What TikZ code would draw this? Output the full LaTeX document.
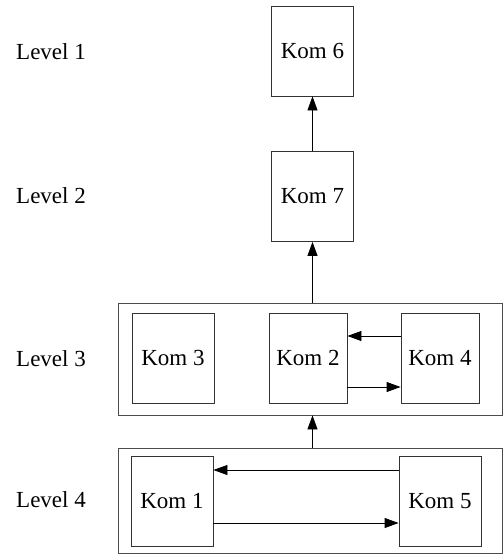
\documentclass[tikz,border=0pt]{standalone}
\usepackage{fontspec}
\setmainfont{Liberation Serif}
\usetikzlibrary{arrows.meta}
\tikzset{
	kom/.style={draw=black!80,line width=0.8pt,minimum width=82pt,minimum height=90pt,inner sep=0pt},
	levelbox/.style={draw=black!70,line width=0.8pt,minimum width=384pt,inner sep=0pt},
	arr/.style={line width=0.8pt,-{Triangle[length=14pt,width=10pt]}},
	lvl/.style={anchor=west,inner sep=0pt}
}
\begin{document}
\begin{tikzpicture}[x=1pt,y=-1pt,font=\fontsize{23}{27}\selectfont]
		\useasboundingbox (0,0) rectangle (503,554);
			\node[lvl] (l1) at (16,52) {Level 1};
			\node[lvl] (l2) at (16,196) {Level 2};
			\node[lvl] (l3) at (16,359) {Level 3};
			\node[lvl] (l4) at (16,500) {Level 4};
			\node[levelbox,minimum height=112pt] (lv3) at (310,359) {};
			\node[levelbox,minimum height=105pt] (lv4) at (310,500.5) {};
			\node[kom] (k6) at (312.5,51) {Kom 6};
			\node[kom] (k7) at (312.5,196.5) {Kom 7};
			\node[kom] (k3) at (173,358) {Kom 3};
			\node[kom,minimum width=78pt] (k2) at (308,358) {Kom 2};
			\node[kom,minimum width=78pt] (k4) at (440,358) {Kom 4};
			\node[kom] (k1) at (172,501) {Kom 1};
			\node[kom] (k5) at (440,501) {Kom 5};
			\draw[arr] (k7) -- (k6);
			\draw[arr] (lv3.north -| k7) -- (k7.south);
			\draw[arr] (lv4.north -| k7) -- (lv3.south -| k7);
			\draw[arr] ([yshift=22pt]k4.west) -- ([yshift=22pt]k2.east);
			\draw[arr] ([yshift=-29pt]k2.east) -- ([yshift=-29pt]k4.west);
			\draw[arr] ([yshift=31pt]k5.west) -- ([yshift=31pt]k1.east);
			\draw[arr] ([yshift=-22pt]k1.east) -- ([yshift=-22pt]k5.west);
	\end{tikzpicture}
\end{document}
